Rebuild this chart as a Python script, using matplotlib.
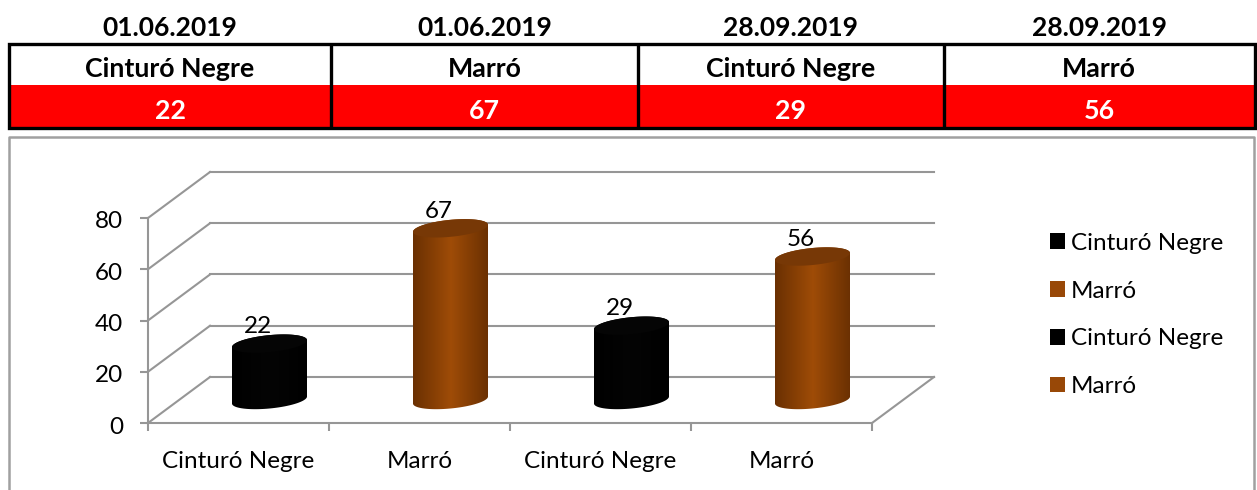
# belt exam results: summary table on top, fake 3d cylinder chart below

import numpy as np
import matplotlib.pyplot as plt
from matplotlib.colors import LinearSegmentedColormap
from matplotlib.patches import Patch, Polygon, Rectangle
from matplotlib.transforms import ScaledTranslation

plt.rcParams['font.family'] = ['Lato', 'DejaVu Sans']

# data
dates = ['01.06.2019', '01.06.2019', '28.09.2019', '28.09.2019']
belts = ['Cinturó Negre', 'Marró', 'Cinturó Negre', 'Marró']
values = [22, 67, 29, 56]
yticks = [0, 20, 40, 60, 80]

# colours
GRID = '#969696'
col_side = {'Cinturó Negre': ['#000000', '#040404', '#000000'],
            'Marró': ['#6a3002', '#9f4c07', '#6a3002']}
col_top = {'Cinturó Negre': '#050505', 'Marró': '#773806'}
col_key = {'Cinturó Negre': '#000000', 'Marró': '#984807'}

W, H = 1257, 490
fig = plt.figure(figsize=(W/100, H/100), dpi=100)

# overlay in pixel coordinates for the table and the frame
bg = fig.add_axes([0, 0, 1, 1])
bg.set_xlim(0, W)
bg.set_ylim(H, 0)
bg.axis('off')

# chart frame, runs off the bottom
bg.plot([8.5, 8.5, 1254, 1254], [H+5, 137, 137, H+5], color='#a0a0a0', lw=1.8, clip_on=False)

# table
edges = [9, 331, 638, 944, 1254.5]
bg.add_patch(Rectangle((9, 85), 1245.5, 43.5, fc='#ff0000', ec='none'))
bg.add_patch(Rectangle((9, 44.5), 1245.5, 84, fc='none', ec='k', lw=2.4, zorder=3))
for e in edges[1:-1]:
	bg.plot([e, e], [44.5, 128.5], color='k', lw=2.4, solid_capstyle='butt', zorder=3)
for i in range(4):
	xc = (edges[i] + edges[i+1])/2
	bg.text(xc, 28, dates[i], ha='center', va='center', fontsize=19, fontweight='bold')
	bg.text(xc, 69, belts[i], ha='center', va='center', fontsize=19.3, fontweight='bold')
	bg.text(xc, 111, str(values[i]), ha='center', va='center', fontsize=19.3, fontweight='bold', color='w')

# chart axes = the front plane of the fake 3d box
ax = fig.add_axes([148/W, (H-423)/H, 724/W, 205/H])
ax.patch.set_alpha(0)
ax.set_xlim(0, 4)
ax.set_ylim(0, 80)

# pixel sizes converted to data units
ux = 4/724
uy = 80/205
dx = 62*ux
dy = 46*uy

# walls
for v in yticks:
	ax.plot([0, dx], [v, v+dy], color=GRID, lw=1.5, clip_on=False)
	ax.plot([dx, 4+dx], [v+dy, v+dy], color=GRID, lw=1.5, clip_on=False)
ax.plot([4, 4+dx], [0, dy], color=GRID, lw=1.5, clip_on=False)

for s in ['top', 'right']:
	ax.spines[s].set_visible(False)
for s in ['left', 'bottom']:
	ax.spines[s].set_color(GRID)
	ax.spines[s].set_linewidth(1.5)

ax.set_yticks(yticks)
ax.set_xticks(range(5))
ax.set_xticks(np.arange(4)+0.5, minor=True)
ax.set_xticklabels([])
ax.set_xticklabels(belts, minor=True)
ax.tick_params(axis='both', which='major', color=GRID, width=1.5, length=6, labelsize=17.5)
ax.tick_params(axis='y', pad=12)
ax.tick_params(axis='x', which='minor', length=0, labelsize=17.5, pad=20)
for lab in ax.get_yticklabels():
	lab.set_transform(lab.get_transform() + ScaledTranslation(0, -2/100, fig.dpi_scale_trans))


# tilted ellipse outline around a centre, t in radians
def ring(xc, yc, t):
	return np.column_stack([xc + 37.5*ux*np.cos(t), yc + 3.5*uy*np.cos(t) + 8.5*uy*np.sin(t)])


# cylinders stand half way back in the box
for i in range(4):
	xc = i + 0.5 + dx/2
	y0 = dy/2
	y1 = values[i] + dy/2
	# back half of the top rim then front half of the bottom rim
	top_edge = ring(xc, y1, np.linspace(np.pi, 0, 60))
	bot_edge = ring(xc, y0, np.linspace(0, -np.pi, 60))
	body = Polygon(np.vstack([top_edge, bot_edge]), fc='none', ec='none')
	ax.add_patch(body)
	cmap = LinearSegmentedColormap.from_list('side', col_side[belts[i]])
	im = ax.imshow(np.linspace(0, 1, 128).reshape(1, -1), cmap=cmap, aspect='auto', interpolation='bilinear',
		extent=[xc - 38*ux, xc + 38*ux, y0 - 12*uy, y1 + 12*uy], zorder=3)
	im.set_clip_path(body)
	ax.add_patch(Polygon(ring(xc, y1, np.linspace(0, 2*np.pi, 120)), fc=col_top[belts[i]], ec='none', zorder=4))
	ax.annotate(str(values[i]), (xc, y1), xytext=(-12/1.389, 17/1.389), textcoords='offset points',
		ha='center', va='center', fontsize=17.5, zorder=5)

ax.set_xlim(0, 4)
ax.set_ylim(0, 80)

# legend
handles = [Patch(fc=col_key[b], ec='none', label=b) for b in belts]
bg.legend(handles=handles, loc='center left', bbox_to_anchor=(1028/W, 1-315/H), frameon=False, fontsize=17.5,
	handlelength=0.62, handleheight=0.62, handletextpad=0.25, labelspacing=1.1)

fig.savefig('out.png', dpi=100)
